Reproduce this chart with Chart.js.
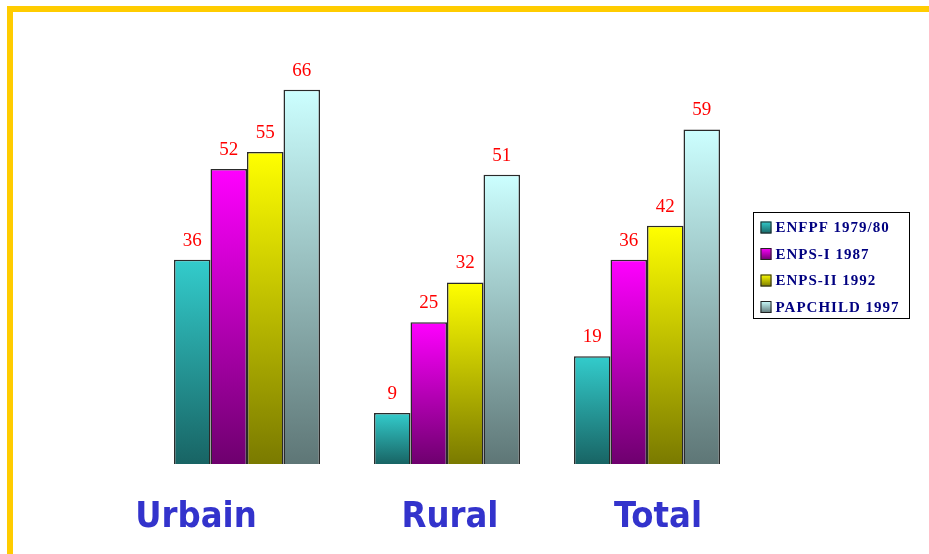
<!DOCTYPE html>
<html>
<head>
<meta charset="utf-8">
<script src="https://cdn.jsdelivr.net/npm/chart.js@4"></script>
<style>
html,body{margin:0;padding:0;background:#fff;}
#wrap{position:relative;width:929px;height:554px;overflow:hidden;}
#top{position:absolute;left:7px;top:6px;width:922px;height:6px;background:#FFCC00;}
#left{position:absolute;left:7px;top:6px;width:6px;height:548px;background:#FFCC00;}
canvas{position:absolute;left:0;top:0;}
</style>
</head>
<body>
<div id="wrap">
<canvas id="c" width="929" height="554"></canvas>
<div id="top"></div>
<div id="left"></div>
</div>
<script>
const categories = ["Urbain", "Rural", "Total"];
const seriesNames = ["ENFPF 1979/80", "ENPS-I 1987", "ENPS-II 1992", "PAPCHILD 1997"];
const enfpf = [36, 9, 19];
const enpsI = [52, 25, 36];
const enpsII = [55, 32, 42];
const papchild = [66, 51, 59];

const topColors = ["#33CCCC", "#FF00FF", "#FFFF00", "#CCFFFF"];
const bottomColors = ["#186464", "#6E006E", "#7A7A00", "#5E7676"];

function gradFill(i) {
  return function(ctx) {
    const chart = ctx.chart;
    if (!chart.chartArea || ctx.type !== 'data') return topColors[i];
    const ys = chart.scales.y;
    const v = ctx.raw;
    const y0 = ys.getPixelForValue(v), y1 = ys.getPixelForValue(0);
    const g = chart.ctx.createLinearGradient(0, y0, 0, Math.max(y1, y0 + 1));
    g.addColorStop(0, topColors[i]);
    g.addColorStop(1, bottomColors[i]);
    return g;
  };
}

const seriesData = [enfpf, enpsI, enpsII, papchild];
const datasets = seriesNames.map((n, i) => ({
  label: n,
  data: seriesData[i],
  backgroundColor: gradFill(i),
  borderColor: "#2a2a2a",
  borderWidth: 1.5,
  barPercentage: 1.0,
  categoryPercentage: 0.73
}));

const labelPlugin = {
  id: 'valueLabels',
  afterDatasetsDraw(chart) {
    const c = chart.ctx;
    c.save();
    c.fillStyle = "#FF0000";
    c.font = "19px 'Liberation Serif', 'Times New Roman', serif";
    c.textAlign = "center";
    c.textBaseline = "middle";
    chart.data.datasets.forEach((ds, di) => {
      chart.getDatasetMeta(di).data.forEach((el, i) => {
        c.fillText(String(ds.data[i]), el.x, el.y - 19);
      });
    });
    c.restore();
  }
};

const catPlugin = {
  id: 'catLabels',
  afterDraw(chart, args, opts) {
    const c = chart.ctx;
    const xs = chart.scales.x;
    c.save();
    c.fillStyle = "#3333CC";
    c.font = "bold 36px 'DejaVu Sans Condensed', 'DejaVu Sans', Verdana, sans-serif";
    c.textAlign = "center";
    c.textBaseline = "middle";
    chart.data.labels.forEach((lab, i) => {
      c.fillText(lab, xs.getPixelForValue(i) + opts.offsets[i], chart.chartArea.bottom + 54);
    });
    c.restore();
  }
};

const legendPlugin = {
  id: 'boxLegend',
  afterDraw(chart) {
    const c = chart.ctx;
    const left = chart.chartArea.right + 6.5, top = 212.5, w = 156, h = 106;
    c.save();
    c.fillStyle = "#fff";
    c.fillRect(left, top, w, h);
    c.strokeStyle = "#000";
    c.lineWidth = 1;
    c.strokeRect(left, top, w, h);
    c.font = "bold 15px 'Liberation Serif', 'Times New Roman', serif";
    c.letterSpacing = "1px";
    c.textBaseline = "middle";
    c.textAlign = "left";
    chart.data.datasets.forEach((ds, i) => {
      const cy = top + 15 + i * 26.5;
      const bx = left + 7, by = cy - 6;
      const g = c.createLinearGradient(0, by, 0, by + 12);
      g.addColorStop(0, topColors[i]);
      g.addColorStop(1, bottomColors[i]);
      c.fillStyle = g;
      c.fillRect(bx, by, 11, 12);
      c.strokeStyle = "#222";
      c.strokeRect(bx + 0.5, by + 0.5, 10, 11);
      c.fillStyle = "#000080";
      c.fillText(ds.label, left + 22, cy + 1);
    });
    c.restore();
  }
};

new Chart(document.getElementById('c'), {
  type: 'bar',
  data: { labels: categories, datasets: datasets },
  options: {
    responsive: false,
    animation: false,
    layout: { padding: { left: 147, right: 182, top: 67, bottom: 90 } },
    scales: {
      x: { display: false },
      y: { display: false, min: 0, max: 70 }
    },
    plugins: {
      legend: { display: false },
      tooltip: { enabled: false },
      catLabels: { offsets: [-51, 3, 11] }
    }
  },
  plugins: [labelPlugin, catPlugin, legendPlugin]
});
</script>
</body>
</html>
